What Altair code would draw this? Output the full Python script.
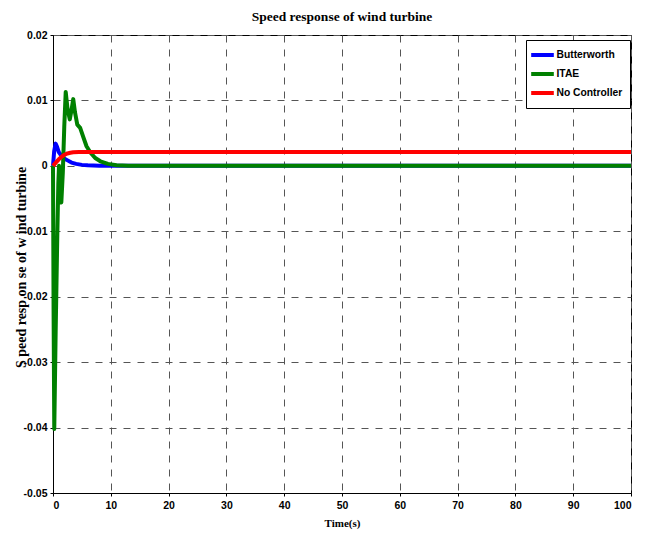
import altair as alt
import pandas as pd

# Butterworth
t_b = [0, 0.2, 0.45, 0.7, 1.0, 1.4, 2.0, 2.6, 3.2, 4.0, 5.0, 6.0, 8.0, 10.0, 100]
v_b = [0, 0.0022, 0.0034, 0.0029, 0.0021, 0.0016, 0.0011, 0.0008, 0.0005, 0.0003, 0.00015, 0.00008, 0.00002, 0, 0]

# ITAE
t_g = [0, 0.1, 0.22, 0.46, 0.75, 0.92, 1.04, 1.25, 1.44, 1.7, 1.95, 2.2, 2.5, 2.9, 3.2,
       3.5, 3.8, 4.2, 4.7, 5.2, 5.8, 6.5, 7.3, 8.2, 9.5, 11, 13, 100]
v_g = [0, -0.022, -0.0402, -0.0254, -0.0103, -0.0027, 0.0, -0.0035, -0.0056, -0.001, 0.006, 0.0113, 0.0088, 0.0071, 0.0085,
       0.0102, 0.0082, 0.0063, 0.0058, 0.0045, 0.003, 0.002, 0.0012, 0.0007, 0.0003, 0.0001, 0, 0]

# No Controller
t_r = [0, 0.3, 0.6, 1.0, 1.5, 2.0, 2.5, 3.0, 3.5, 4.5, 6, 100]
v_r = [0, 0.0003, 0.0006, 0.001, 0.0014, 0.0017, 0.0019, 0.002, 0.00207, 0.00211, 0.00213, 0.00213]

series = ["Butterworth", "ITAE", "No Controller"]
colors = ["#0000FF", "#008000", "#FF0000"]
x_ticks = [0, 10, 20, 30, 40, 50, 60, 70, 80, 90, 100]
y_ticks = [-0.05, -0.04, -0.03, -0.02, -0.01, 0, 0.01, 0.02]

rows = []
for name, ts, vs in zip(series, [t_b, t_g, t_r], [v_b, v_g, v_r]):
    for i, (t, v) in enumerate(zip(ts, vs)):
        rows.append({"series": name, "t": t, "v": v, "order": i})
df = pd.DataFrame(rows)

tick_font = "Liberation Sans"
serif = "Liberation Serif"

chart = alt.Chart(df).mark_line(strokeWidth=4, strokeJoin="round").encode(
    x=alt.X("t:Q", scale=alt.Scale(domain=[0, 100], nice=False),
            axis=alt.Axis(values=x_ticks, title="Time(s)", titleFont=serif, titleFontSize=11,
                          titleFontWeight="bold", titleX=289, titleY=33, titleBaseline="alphabetic",
                          titleAnchor="middle", labelPadding=4)),
    y=alt.Y("v:Q", scale=alt.Scale(domain=[-0.05, 0.02], nice=False),
            axis=alt.Axis(values=y_ticks,
                          labelExpr="datum.value == 0 ? '0' : replace(format(datum.value, '.2f'), '\u2212', '-')",
                          title="S peed  resp on se  of  w ind  turbine", titleFont=serif, titleFontSize=14,
                          titleFontWeight="bold", titleAngle=-90, titleX=-28, titleY=232,
                          titleBaseline="alphabetic", titleAnchor="middle", labelPadding=3)),
    color=alt.Color("series:N", scale=alt.Scale(domain=series, range=colors),
                    legend=alt.Legend(title=None, orient="none", legendX=473, legendY=5,
                                      symbolType="M-2,0H2", symbolStrokeWidth=4, symbolSize=128,
                                      symbolOffset=1.5,
                                      labelFont=tick_font, labelFontSize=10.3, labelFontWeight="bold",
                                      labelColor="black", strokeColor="black", fillColor="white",
                                      padding=7, rowPadding=3, labelOffset=6)),
    order=alt.Order("order:Q"),
).properties(
    width=578, height=458,
    title=alt.TitleParams("Speed response of wind turbine", font=serif, fontSize=13.5,
                          fontWeight="bold", anchor="middle", frame="group", offset=15, dy=19.5,
                          baseline="alphabetic", color="black"),
    autosize=alt.AutoSizeParams(type="none"),
    padding={"left": 45, "top": 27, "right": 10, "bottom": 42},
    background="white",
).configure_view(stroke="black", strokeWidth=1).configure_axis(
    labelFont=tick_font, labelFontSize=10.5, labelFontWeight="bold", labelColor="black",
    domainColor="black", tickColor="black", tickSize=3,
    gridColor="#555555", gridDash=[7, 7], gridOpacity=1, gridWidth=1, titleColor="black",
)

chart.save("out.html", embed_options={"renderer": "svg", "actions": False})
